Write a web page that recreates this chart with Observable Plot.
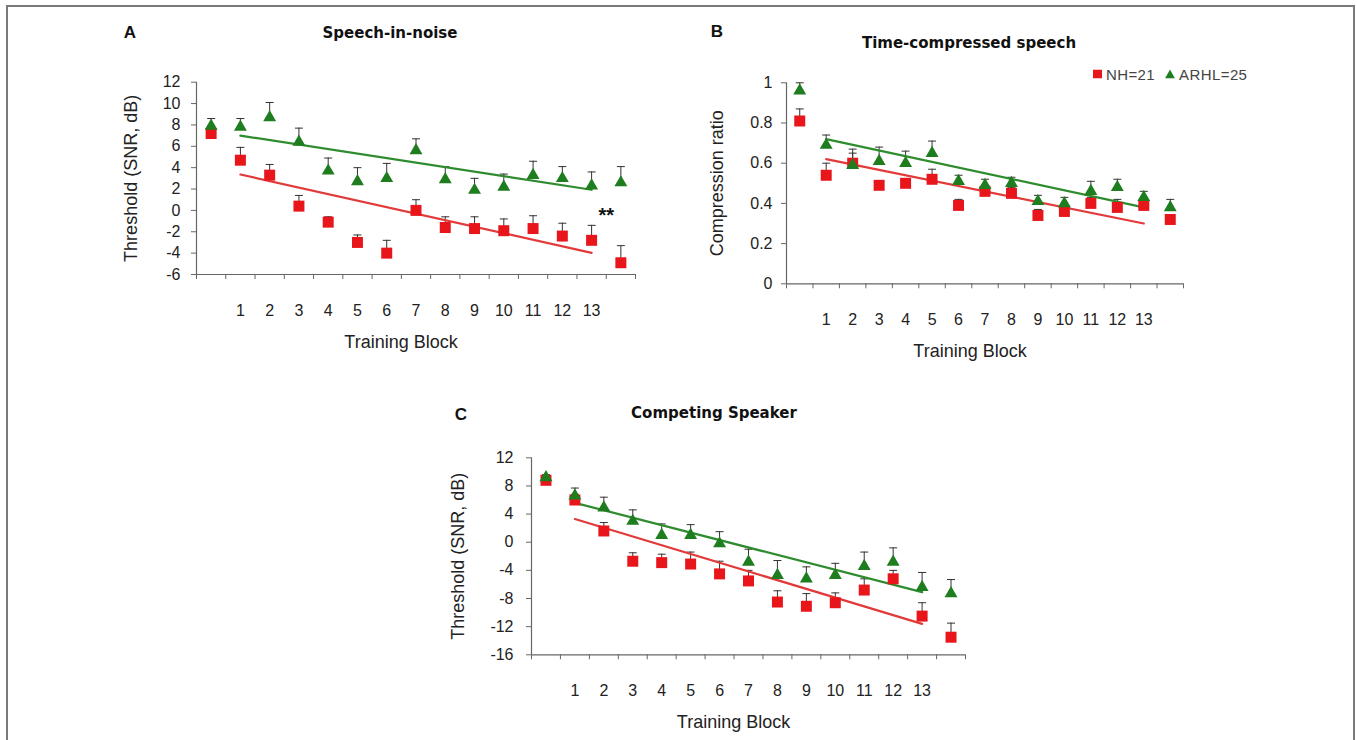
<!DOCTYPE html>
<html><head><meta charset="utf-8">
<script src="https://cdn.jsdelivr.net/npm/d3@7"></script>
<script src="https://cdn.jsdelivr.net/npm/@observablehq/plot@0.6"></script>
<style>
body{margin:0;background:#fff;font-family:"Liberation Sans",Arial,sans-serif;}
#fig{position:relative;width:1357px;height:740px;overflow:hidden;background:#fff;}
#frame{position:absolute;left:6px;top:5px;width:1349px;height:780px;border:2px solid #7a7a7a;box-sizing:border-box;}
.abs{position:absolute;}
.letter{font-weight:bold;font-size:17px;color:#111;transform:translate(-50%,-50%);}
.title{font-family:"DejaVu Sans",sans-serif;font-weight:bold;font-size:15px;color:#111;transform:translate(-50%,-50%);white-space:nowrap;}
.legend{font-size:15px;color:#444;transform:translateY(-50%);white-space:nowrap;display:flex;align-items:center;letter-spacing:0.4px;}
.sw{display:inline-block;}
</style></head>
<body><div id="fig"><div id="frame"></div></div>
<script>
// ---- categories ----
const blocks = ["Pre","1","2","3","4","5","6","7","8","9","10","11","12","13","Post"];
const groups = ["NH=21","ARHL=25"];

// ---- A: Speech-in-noise (threshold, SNR dB) ----
const sinNH       = [7.2, 4.7, 3.3, 0.4, -1.1, -3.0, -4.0, 0.0, -1.6, -1.7, -1.9, -1.7, -2.4, -2.8, -4.9];
const sinNHUpper  = [7.6, 5.9, 4.3, 1.4, -0.6, -2.3, -2.8, 1.0, -0.6, -0.6, -0.8, -0.5, -1.2, -1.4, -3.3];
const sinAR       = [7.9, 7.8, 8.7, 6.4, 3.7, 2.7, 3.0, 5.6, 2.9, 1.9, 2.2, 3.3, 3.0, 2.3, 2.6];
const sinARUpper  = [8.6, 8.6, 10.1, 7.7, 4.9, 4.0, 4.4, 6.7, 4.1, 3.0, 3.4, 4.6, 4.1, 3.6, 4.1];
const sinTrendNH  = [3.36, -3.97];   // fitted at blocks 1 and 13
const sinTrendAR  = [7.0, 1.93];
const sinNotes    = [{label: "**", from: "13", to: "Post", value: -0.5}];

// ---- B: Time-compressed speech (compression ratio) ----
const tcsNH       = [0.81, 0.54, 0.60, 0.49, 0.50, 0.52, 0.39, 0.46, 0.45, 0.34, 0.36, 0.40, 0.38, 0.39, 0.32];
const tcsNHUpper  = [0.87, 0.60, 0.65, 0.51, 0.52, 0.57, 0.42, 0.49, 0.48, 0.37, 0.38, 0.43, 0.42, 0.41, 0.34];
const tcsAR       = [0.96, 0.69, 0.59, 0.61, 0.60, 0.65, 0.51, 0.49, 0.50, 0.41, 0.40, 0.46, 0.48, 0.43, 0.38];
const tcsARUpper  = [1.00, 0.74, 0.67, 0.68, 0.66, 0.71, 0.54, 0.52, 0.53, 0.44, 0.43, 0.51, 0.52, 0.46, 0.42];
const tcsTrendNH  = [0.62, 0.30];
const tcsTrendAR  = [0.72, 0.38];

// ---- C: Competing speaker (threshold, SNR dB) ----
const csNH        = [8.8, 6.0, 1.6, -2.7, -2.9, -3.1, -4.5, -5.5, -8.5, -9.1, -8.6, -6.8, -5.2, -10.5, -13.5];
const csNHUpper   = [9.3, 6.8, 2.8, -1.5, -1.7, -1.4, -2.7, -4.0, -6.9, -7.3, -7.2, -5.2, -4.0, -8.6, -11.5];
const csAR        = [9.2, 6.6, 4.9, 3.0, 1.0, 1.0, -0.2, -2.8, -4.7, -5.2, -4.7, -3.4, -2.8, -6.4, -7.3];
const csARUpper   = [9.6, 7.7, 6.4, 4.6, 2.6, 2.5, 1.5, -1.0, -2.6, -3.5, -3.0, -1.4, -0.8, -4.3, -5.3];
const csTrendNH   = [3.3, -11.6];
const csTrendAR   = [5.6, -7.1];

// ---- tick values ----
const ticksSNR_A = [-6,-4,-2,0,2,4,6,8,10,12];
const ticksRatio = [0,0.2,0.4,0.6,0.8,1];
const ticksSNR_C = [-16,-12,-8,-4,0,4,8,12];

const RED = "#e8161b", GREEN = "#1e7d1e";
const LRED = "#e23a3a", LGREEN = "#2e8c2e";
const AXIS = "#666";

const capSymbol = {draw(ctx, size) { const r = Math.sqrt(size / Math.PI); ctx.moveTo(-r, 0); ctx.lineTo(r, 0); }};
const pos = b => blocks.indexOf(b) + 0.5;

function rows(means, uppers, group) {
  return blocks.map((b, i) => ({block: b, x: pos(b), mean: means[i], upper: uppers[i], group}));
}
function trend(vals, group) {
  return [{x: pos("1"), y: vals[0], group}, {x: pos("13"), y: vals[1], group}];
}

function panel(o) {
  const nh = rows(o.nh, o.nhUp, groups[0]);
  const ar = rows(o.ar, o.arUp, groups[1]);
  const all = nh.concat(ar);
  const lines = trend(o.tNH, groups[0]).concat(trend(o.tAR, groups[1]));
  const labelTicks = blocks.filter(b => /^\d+$/.test(b)).map(pos);
  const marks = [
    Plot.ruleY([o.yDomain[0]], {stroke: AXIS, strokeWidth: 1.2}),
    Plot.ruleX([0], {stroke: AXIS, strokeWidth: 1.2}),
    Plot.axisY({ticks: o.yTicks, tickSize: 5, tickPadding: o.tickPad, tickFormat: o.yFormat, fontSize: 16, label: null, stroke: AXIS, fill: "#222"}),
    Plot.axisX({ticks: d3.range(0, blocks.length + 1), tickSize: 5, tickFormat: () => "", label: null, stroke: AXIS}),
    Plot.axisX({ticks: labelTicks, tickSize: 0, tickPadding: 30, tickFormat: d => blocks[d - 0.5], fontSize: 16, label: null, fill: "#222"}),
    Plot.text(["Training Block"], {frameAnchor: "bottom", dy: 73, dx: -15, fontSize: 18, fill: "#222"}),
    Plot.text([o.yLabel], {frameAnchor: "left", textAnchor: "middle", dx: o.yLabelDx, rotate: -90, fontSize: 18, fill: "#222"}),
    Plot.ruleX(all, {x: "x", y1: "mean", y2: "upper", stroke: "#333", strokeWidth: 1}),
    Plot.dot(all, {x: "x", y: "upper", symbol: capSymbol, r: 4, stroke: "#333", strokeWidth: 1, fill: "none"}),
    Plot.line(lines, {x: "x", y: "y", z: "group", stroke: d => d.group === groups[0] ? LRED : LGREEN, strokeWidth: 2.2}),
    Plot.dot(nh, {x: "x", y: "mean", symbol: "square", r: 6.2, fill: RED, stroke: "none"}),
    Plot.dot(ar, {x: "x", y: "mean", symbol: "triangle", r: 4.8, fill: GREEN, stroke: "none"})
  ];
  if (o.notes) marks.push(Plot.text(o.notes, {x: d => (pos(d.from) + pos(d.to)) / 2, y: "value", text: "label", fontSize: 20, fontWeight: "bold", fill: "#111"}));
  const svg = Plot.plot({
    width: o.width, height: o.marginTop + o.plotHeight + o.marginBottom,
    marginLeft: o.marginLeft, marginRight: 10, marginTop: o.marginTop, marginBottom: o.marginBottom,
    style: {fontFamily: '"Liberation Sans", Arial, sans-serif', color: "#222", background: "transparent"},
    x: {type: "linear", domain: [0, blocks.length]},
    y: {domain: o.yDomain},
    marks
  });
  svg.style.position = "absolute";
  svg.style.left = o.left + "px";
  svg.style.top = o.top + "px";
  svg.style.overflow = "visible";
  return svg;
}

const fig = document.getElementById("fig");
function addDiv(cls, text, x, y) {
  const d = document.createElement("div");
  d.className = "abs " + cls; d.textContent = text;
  d.style.left = x + "px"; d.style.top = y + "px";
  fig.appendChild(d); return d;
}

fig.appendChild(panel({
  nh: sinNH, nhUp: sinNHUpper, ar: sinAR, arUp: sinARUpper, tNH: sinTrendNH, tAR: sinTrendAR, notes: sinNotes,
  yDomain: [-6, 12], yTicks: ticksSNR_A, yFormat: d => String(d), yLabel: "Threshold (SNR, dB)", yLabelDx: -65, tickPad: 11,
  left: 110, top: 60, width: 535, marginLeft: 86, marginTop: 21.7, plotHeight: 192.3, marginBottom: 95
}));
fig.appendChild(panel({
  nh: tcsNH, nhUp: tcsNHUpper, ar: tcsAR, arUp: tcsARUpper, tNH: tcsTrendNH, tAR: tcsTrendAR,
  yDomain: [0, 1], yTicks: ticksRatio, yFormat: d => (d === 0 || d === 1) ? String(d) : d.toFixed(1), yLabel: "Compression ratio", yLabelDx: -69, tickPad: 9,
  left: 690, top: 60, width: 503, marginLeft: 96, marginTop: 22.3, plotHeight: 201, marginBottom: 95
}));
fig.appendChild(panel({
  nh: csNH, nhUp: csNHUpper, ar: csAR, arUp: csARUpper, tNH: csTrendNH, tAR: csTrendAR,
  yDomain: [-16, 12], yTicks: ticksSNR_C, yFormat: d => String(d), yLabel: "Threshold (SNR, dB)", yLabelDx: -73, tickPad: 13,
  left: 440, top: 435, width: 535, marginLeft: 91, marginTop: 22.3, plotHeight: 197, marginBottom: 86
}));

addDiv("letter", "A", 130, 33);
addDiv("letter", "B", 717, 32);
addDiv("letter", "C", 461, 415);
addDiv("title", "Speech-in-noise", 390, 33);
addDiv("title", "Time-compressed speech", 969, 43);
addDiv("title", "Competing Speaker", 714, 413);

// legend
const lg = addDiv("legend", "", 1093, 74);
[[groups[0], "square", RED], [groups[1], "triangle", GREEN]].forEach(([g, shape, c], i) => {
  const s = document.createElement("span");
  s.className = "sw";
  s.innerHTML = shape === "square"
    ? `<svg width="9" height="9" style="display:block"><rect width="9" height="9" fill="${c}"/></svg>`
    : `<svg width="10" height="9" style="display:block"><polygon points="5,0 10,9 0,9" fill="${c}"/></svg>`;
  s.style.marginLeft = i > 0 ? "10px" : "0";
  s.style.marginRight = "4px";
  lg.appendChild(s);
  const t = document.createElement("span"); t.textContent = g; lg.appendChild(t);
});
</script>
</body></html>
